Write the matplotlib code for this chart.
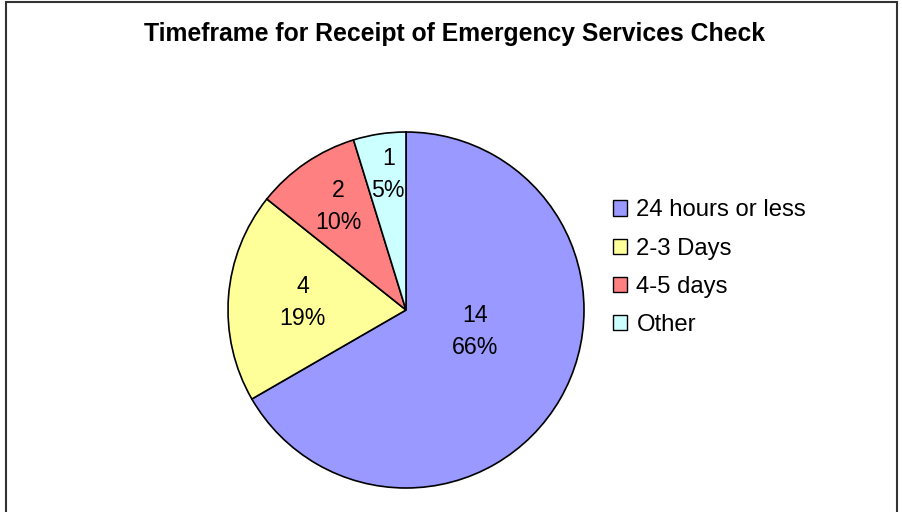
import matplotlib.pyplot as plt
from matplotlib.patches import Rectangle

# data
labels = ['24 hours or less', '2-3 Days', '4-5 days', 'Other']
counts = [14, 4, 2, 1]
pct_text = ['66%', '19%', '10%', '5%']
colors = ['#9999FF', '#FFFF99', '#FF8080', '#CCFFFF']

# label anchor points, in units of the pie radius
label_pos = [(0.39, -0.12), (-0.58, 0.04), (-0.38, 0.58), (-0.10, 0.76)]

plt.rcParams['font.family'] = ['Liberation Sans', 'DejaVu Sans']

W, H = 902, 512
fig = plt.figure(figsize=(W / 100, H / 100), dpi=100)

# pie centre (406, 310) px, radius 178 px
cx, cy, r = 406, 310, 178
ax = fig.add_axes([(cx - r) / W, (H - cy - r) / H, 2 * r / W, 2 * r / H])
wedges, _ = ax.pie(counts, colors=colors, startangle=90, counterclock=False,
                   radius=1.0, wedgeprops=dict(edgecolor='black', linewidth=1.2))
ax.set_xlim(-1, 1)
ax.set_ylim(-1, 1)
ax.set_aspect('equal')
ax.axis('off')

for (x, y), n, p in zip(label_pos, counts, pct_text):
    ax.text(x, y, f'{n}\n{p}', ha='center', va='center', fontsize=16.7,
            linespacing=1.5)

fig.text(454 / W, 1 - 34 / H, 'Timeframe for Receipt of Emergency Services Check',
         ha='center', va='center', fontsize=17.8, fontweight='bold')

leg = fig.legend(wedges, labels, loc='upper left',
                 bbox_to_anchor=(591 / W, 1 - 178 / H), frameon=False,
                 fontsize=17.2, handlelength=0.6, handleheight=0.6,
                 handletextpad=0.4, labelspacing=0.68)
for hnd in leg.legend_handles:
    hnd.set_linewidth(1.0)

# outer chart frame (no bottom edge visible)
fig.patches.append(Rectangle((6 / W, -0.05), 891 / W, 1.05 - 2 / H,
                             transform=fig.transFigure, fill=False,
                             edgecolor='#333333', linewidth=1.5, clip_on=False))

fig.savefig('out.png', dpi=100)
